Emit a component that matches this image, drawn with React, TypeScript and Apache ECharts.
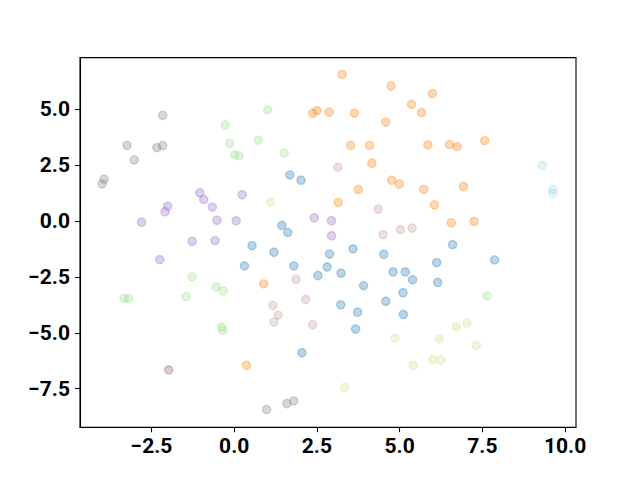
import React, { useEffect, useRef } from "react";
import * as echarts from "echarts";

const xTicks = [-2.5, 0, 2.5, 5, 7.5, 10];
const yTicks = [-7.5, -5, -2.5, 0, 2.5, 5];

const bluePts = [
  [1.68, 2.06], [2.02, 1.82], [1.44, -0.2], [1.62, -0.51], [0.54, -1.1], [0.31, -2.01],
  [1.2, -1.4], [1.8, -2.01], [2.88, -1.48], [3.59, -1.25], [4.52, -1.49], [2.81, -2.06],
  [2.53, -2.44], [3.23, -2.34], [3.91, -2.89], [4.8, -2.28], [5.17, -2.28], [5.1, -3.21],
  [4.58, -3.59], [3.22, -3.75], [3.73, -4.08], [3.67, -4.83], [5.11, -4.18], [2.05, -5.89],
  [6.6, -1.06], [7.87, -1.74], [6.12, -1.86], [5.39, -2.63], [6.15, -2.75],
];
const orangePts = [
  [3.26, 6.55], [4.74, 6.03], [2.37, 4.82], [2.5, 4.93], [2.87, 4.86], [3.63, 4.82],
  [4.58, 4.42], [5.36, 5.21], [5.99, 5.69], [5.66, 4.84], [3.52, 3.38], [4.09, 3.38],
  [4.16, 2.58], [5.85, 3.4], [6.51, 3.41], [6.74, 3.32], [7.57, 3.59], [3.75, 1.41],
  [4.76, 1.82], [4.99, 1.65], [5.73, 1.41], [6.93, 1.54], [3.14, 0.83], [6.05, 0.72],
  [6.56, -0.08], [7.25, -0.02], [0.89, -2.81], [0.37, -6.45],
];
const greenPts = [
  [-0.27, 4.29], [-0.14, 3.46], [0.02, 2.95], [0.14, 2.92], [1.01, 4.96], [0.73, 3.61],
  [1.51, 3.04], [-1.27, -2.5], [-0.55, -2.95], [-0.33, -3.13], [-1.45, -3.38], [-3.33, -3.45],
  [-3.2, -3.47], [-0.38, -4.75], [-0.34, -4.89], [7.64, -3.35],
];
const purplePts = [
  [-1.04, 1.26], [-0.92, 0.96], [0.24, 1.17], [-0.66, 0.62], [-2.01, 0.66], [-2.09, 0.41],
  [-2.8, -0.06], [-0.52, 0.03], [0.06, 0.0], [-1.27, -0.91], [-0.58, -0.88], [-2.25, -1.73],
  [2.42, 0.14], [2.94, 0.01], [2.94, -0.66],
];
const grayPts = [
  [-2.16, 4.72], [-3.24, 3.38], [-2.34, 3.28], [-2.16, 3.37], [-3.02, 2.73], [-3.93, 1.87],
  [-3.99, 1.66], [1.8, -8.04], [1.59, -8.16], [0.98, -8.43],
];
const lightBrownPts = [
  [3.13, 2.4], [4.35, 0.53], [4.5, -0.61], [5.02, -0.39], [5.38, -0.32], [1.87, -2.61],
  [1.17, -3.78], [1.33, -4.21], [1.2, -4.52], [2.16, -3.51], [2.37, -4.64],
];
const darkBrownPts = [[-1.98, -6.66]];
const olivePts = [
  [1.1, 0.84], [4.86, -5.24], [3.34, -7.44], [6.72, -4.73], [7.03, -4.57], [6.2, -5.27],
  [7.32, -5.56], [6.0, -6.19], [6.24, -6.22], [5.41, -6.46],
];
const cyanPts = [[9.31, 2.48], [9.63, 1.41], [9.62, 1.23]];

const groups: [number[][], string][] = [
  [bluePts, "#1f77b4"],
  [orangePts, "#ff7f0e"],
  [greenPts, "#98df8a"],
  [purplePts, "#9467bd"],
  [darkBrownPts, "#8c564b"],
  [lightBrownPts, "#c49c94"],
  [grayPts, "#7f7f7f"],
  [olivePts, "#dbdb8d"],
  [cyanPts, "#9edae5"],
];

const fmt = (v: number) => {
  const s = Math.abs(v).toFixed(1);
  return v < 0 ? "\u2212" + s : s;
};

export default function App() {
  const ref = useRef<HTMLDivElement>(null);
  useEffect(() => {
    if (!ref.current) return;
    const chart = echarts.init(ref.current, null, { renderer: "svg" });
    const labelStyle = {
      fontFamily: "Roboto",
      fontWeight: "bold" as const,
      fontSize: 21,
      color: "#000",
    };
    chart.setOption({
      animation: false,
      backgroundColor: "#fff",
      grid: {
        left: 80,
        right: 64,
        top: 57.6,
        bottom: 52.8,
        show: true,
        borderColor: "#000",
        borderWidth: 1.1,
        backgroundColor: "transparent",
      },
      xAxis: {
        type: "value",
        min: -4.66,
        max: 10.33,
        splitLine: { show: false },
        axisLine: { show: true, onZero: false, lineStyle: { color: "#000", width: 1.1 } },
        axisTick: { show: true, inside: false, length: 5, customValues: xTicks, lineStyle: { color: "#000", width: 1.1 } },
        axisLabel: { ...labelStyle, margin: 8, customValues: xTicks, formatter: fmt },
      },
      yAxis: {
        type: "value",
        min: -9.22,
        max: 7.3,
        splitLine: { show: false },
        axisLine: { show: true, onZero: false, lineStyle: { color: "#000", width: 1.1 } },
        axisTick: { show: true, inside: false, length: 5, customValues: yTicks, lineStyle: { color: "#000", width: 1.1 } },
        axisLabel: { ...labelStyle, margin: 10, customValues: yTicks, formatter: fmt },
      },
      series: groups.map(([pts, color]) => ({
        type: "scatter",
        data: pts,
        symbol: "circle",
        symbolSize: 8.3,
        itemStyle: { color, borderColor: color, borderWidth: 1.4, opacity: 0.3 },
        emphasis: { disabled: true },
      })),
    });
    return () => chart.dispose();
  }, []);
  return <div ref={ref} style={{ width: 640, height: 480, position: "absolute", left: 0, top: 0 }} />;
}
